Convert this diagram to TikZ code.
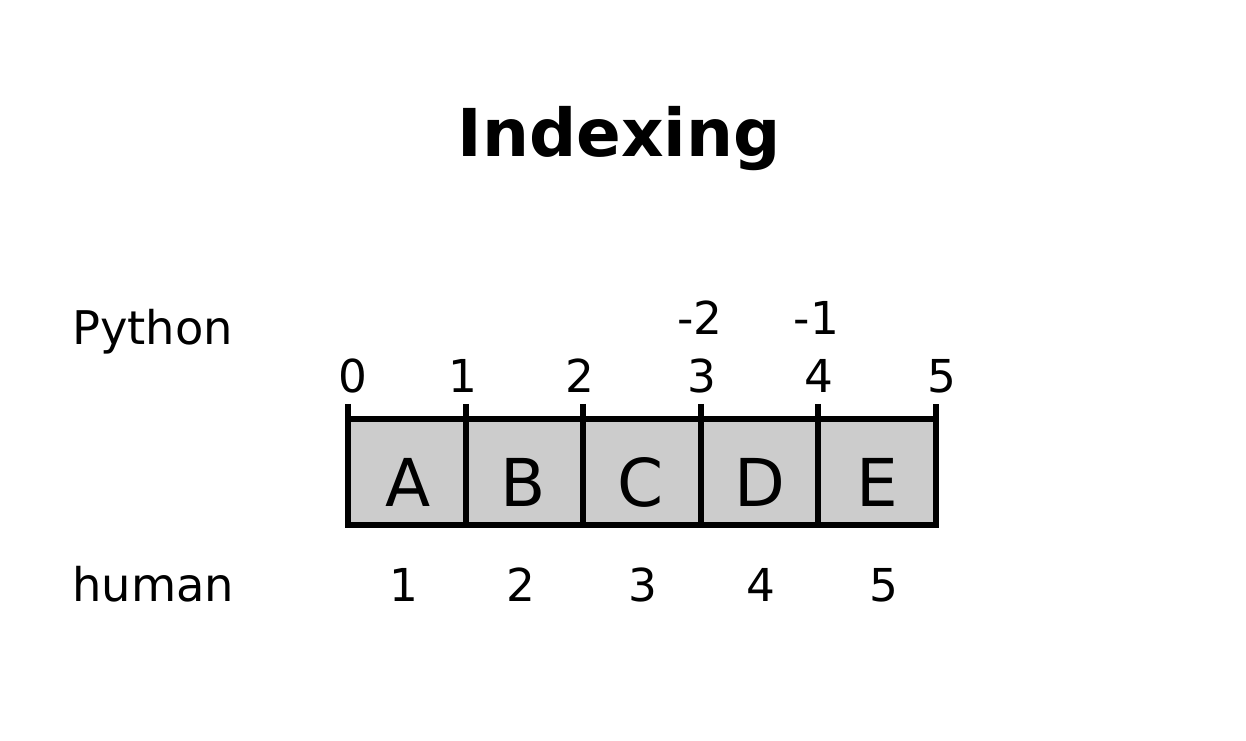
\documentclass[tikz,border=0pt]{standalone}
\usepackage{fontspec}
\setmainfont{DejaVu Sans}
\definecolor{cellgray}{HTML}{CCCCCC}
\begin{document}
\begin{tikzpicture}[x=0.75pt,y=-0.75pt,
  lbl/.style={inner sep=0pt,anchor=base,font=\fontsize{34}{40}\selectfont},
  side/.style={inner sep=0pt,anchor=base west,font=\fontsize{34.8}{40}\selectfont},
  cellletter/.style={inner sep=0pt,anchor=base,font=\fontsize{49.5}{58}\selectfont},
  heavy/.style={line width=4.1pt,line join=miter}]
\useasboundingbox (0,0) rectangle (1246,741);
% title
\node[inner sep=0pt,anchor=base,font=\bfseries\fontsize{49.5}{58}\selectfont] (title) at (619,157) {Indexing};
% row labels
\node[side] (python) at (72,345) {Python};
\node[side] (human) at (72,601) {human};
% boundary coordinates
\coordinate (b0) at (348,419); \coordinate (b1) at (466,419); \coordinate (b2) at (583,419);
\coordinate (b3) at (701,419); \coordinate (b4) at (818,419); \coordinate (b5) at (936,419);
% cells
\fill[cellgray] (348,419) rectangle (936,525);
\draw[heavy] (348,404) -- (348,525) -- (936,525) -- (936,404);
\draw[heavy] (b0) -- (b5);
\foreach \x in {466,583,701,818} \draw[heavy] (\x,404) -- (\x,525);
% letters
\node[cellletter] (cA) at (408,506) {A};
\node[cellletter] (cB) at (523,506) {B};
\node[cellletter] (cC) at (641,506) {C};
\node[cellletter] (cD) at (760,506) {D};
\node[cellletter] (cE) at (877,506) {E};
% python indices
\node[lbl] (p0) at (352.5,393) {0};
\node[lbl] (p1) at (462.5,393) {1};
\node[lbl] (p2) at (579.5,393) {2};
\node[lbl] (p3) at (701.5,393) {3};
\node[lbl] (p4) at (819,393) {4};
\node[lbl] (p5) at (941.5,393) {5};
\node[lbl] (m2) at (700,335) {-2};
\node[lbl] (m1) at (816.5,335) {-1};
% human indices
\node[lbl] (h1) at (404,601) {1};
\node[lbl] (h2) at (521,601) {2};
\node[lbl] (h3) at (643,601) {3};
\node[lbl] (h4) at (761,601) {4};
\node[lbl] (h5) at (884,601) {5};
\end{tikzpicture}
\end{document}
